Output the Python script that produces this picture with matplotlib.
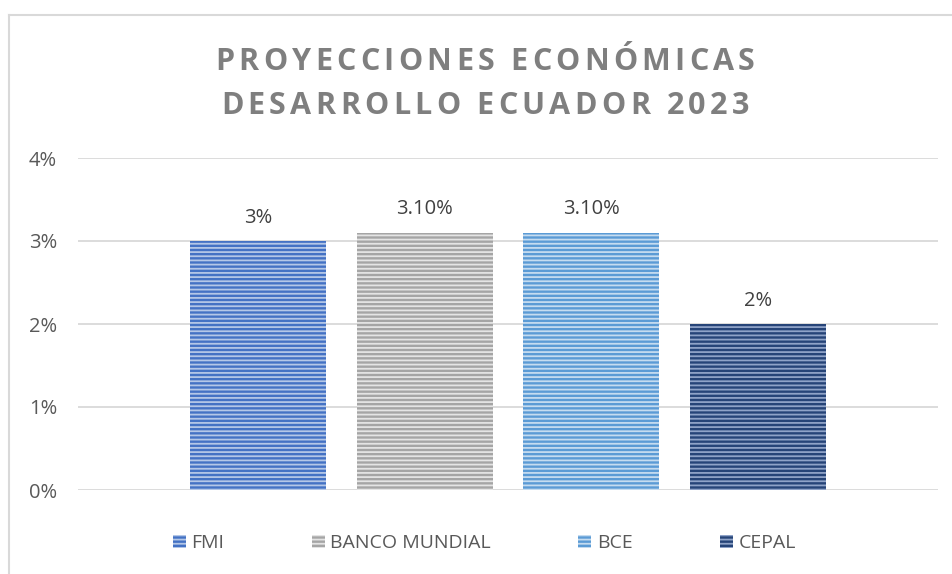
import matplotlib
matplotlib.use('Agg')
import matplotlib.pyplot as plt
from matplotlib.font_manager import FontProperties
from matplotlib.ticker import FuncFormatter

# datos del grafico
series = ['FMI', 'BANCO MUNDIAL', 'BCE', 'CEPAL']
valores = [3.0, 3.1, 3.1, 2.0]          # en %
etiquetas = ['3%', '3.10%', '3.10%', '2%']
colores = ['#4472C4', '#A5A5A5', '#5B9BD5', '#264478']
rayas = ['#B4C7E7', '#E4E4E4', '#C5DCF0', '#8FA3C8']
yticks = [0, 1, 2, 3, 4]
titulo = ['PROYECCIONES ECONÓMICAS', 'DESARROLLO ECUADOR 2023']

plt.rcParams['font.family'] = ['Open Sans', 'DejaVu Sans']
plt.rcParams['hatch.linewidth'] = 1.3

W, H = 953, 574
fig = plt.figure(figsize=(W / 100, H / 100), dpi=100)

# marco del grafico (como en excel)
fig.add_artist(plt.Line2D([9 / W, 1], [1 - 15 / H, 1 - 15 / H], color='#D9D9D9', lw=1.5))
fig.add_artist(plt.Line2D([9 / W, 9 / W], [0, 1 - 15 / H], color='#D9D9D9', lw=1.5))

ax = fig.add_axes([78 / W, 1 - 490 / H, 860 / W, 332 / H])
x = list(range(len(series)))
paso = 166.5
ancho = 136 / paso
half = 860 / 2 / paso
ax.set_xlim(1.5 - half, 1.5 + half)
ax.set_ylim(0, 4)

for i in x:
    ax.bar(i, valores[i], width=ancho, color=colores[i], edgecolor=rayas[i],
           hatch='----', linewidth=0, label=series[i], zorder=3)
    ax.text(i, valores[i] + 0.16, etiquetas[i], ha='center', va='bottom',
            fontsize=14.5, color='#404040')

ax.set_yticks(yticks)
ax.yaxis.set_major_formatter(FuncFormatter(lambda v, p: f'{v:.0f}%'))
ax.set_xticks([])
ax.grid(axis='y', color='#D9D9D9', lw=1.3, zorder=0)
for s in ax.spines.values():
    s.set_visible(False)
ax.tick_params(axis='y', length=0, pad=15, labelsize=14.5, labelcolor='#595959')

leg = ax.legend(loc='center', bbox_to_anchor=(484.5 / W, 1 - 543 / H),
                bbox_transform=fig.transFigure, ncol=4, frameon=False,
                fontsize=14, handlelength=0.65, handleheight=0.65,
                handletextpad=0.3, columnspacing=4.5)
for t in leg.get_texts():
    t.set_color('#595959')

# titulo con espaciado entre letras
fp = FontProperties(family=['Open Sans', 'DejaVu Sans'], weight='bold', size=22)
renderer = fig.canvas.get_renderer()
tracking = 4.3
for k, linea in enumerate(titulo):
    anchos = [renderer.get_text_width_height_descent(c, fp, ismath=False)[0] for c in linea]
    total = sum(anchos) + tracking * (len(linea) - 1)
    xpos = 485 - total / 2
    ypos = H - (62 if k == 0 else 106)
    for c, w in zip(linea, anchos):
        fig.text(xpos / W, ypos / H, c, fontproperties=fp, color='#7F7F7F',
                 ha='left', va='center')
        xpos += w + tracking

fig.savefig('out.png', dpi=100)
